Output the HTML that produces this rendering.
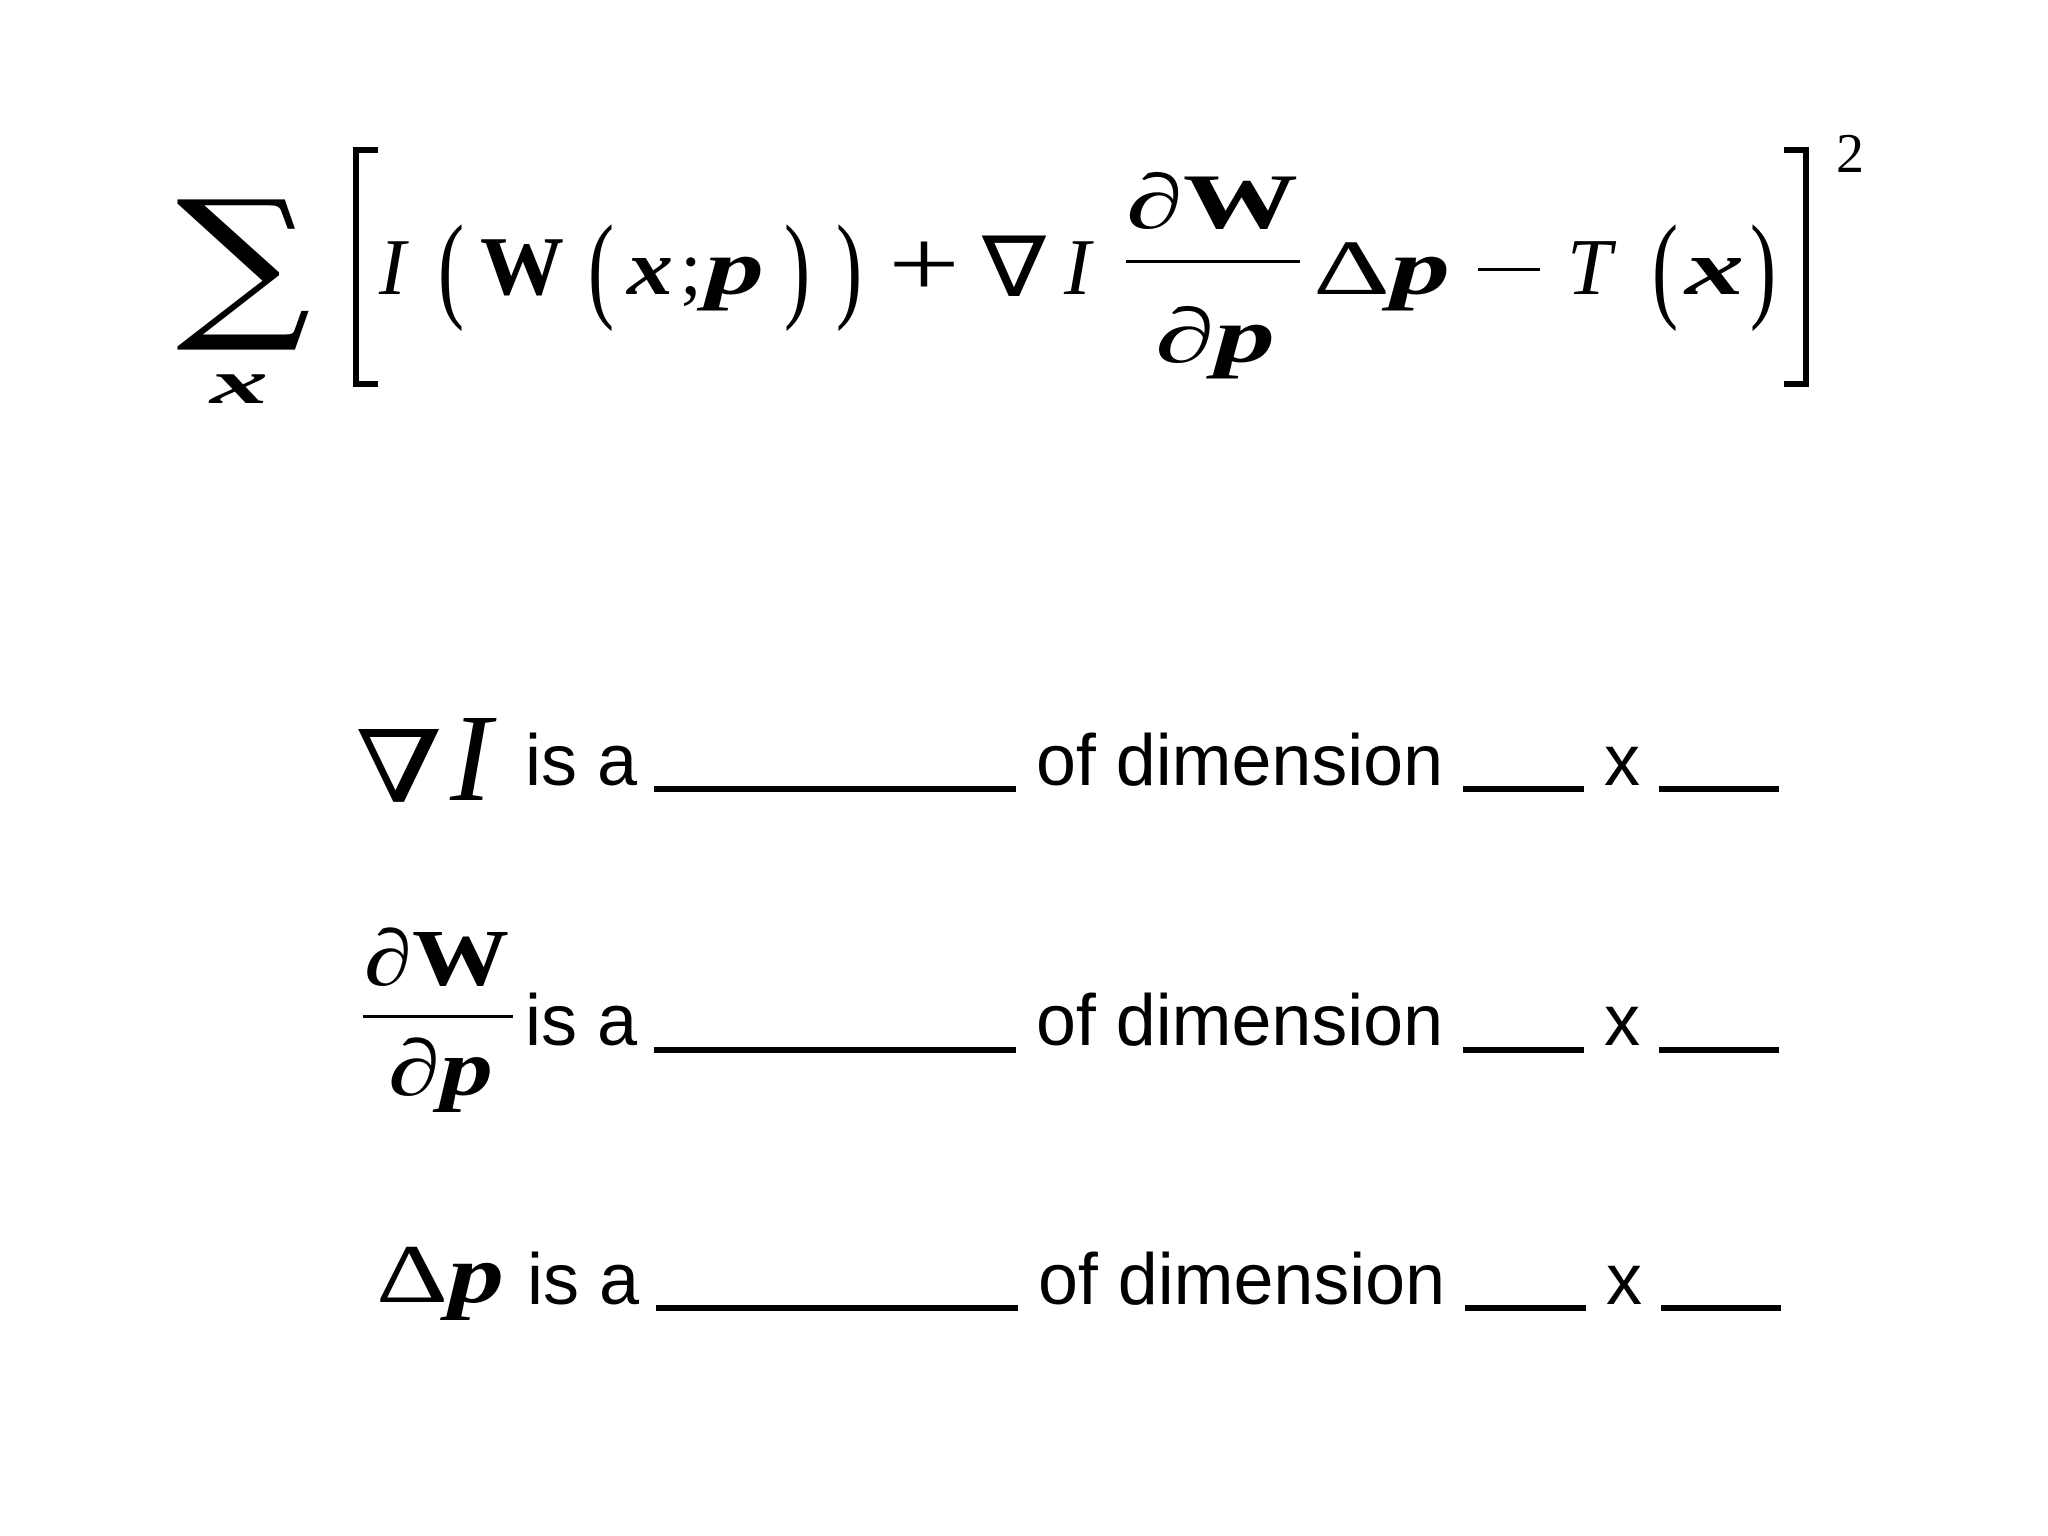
<!DOCTYPE html>
<html><head><meta charset="utf-8"><style>
html,body{margin:0;padding:0;background:#fff;width:2048px;height:1536px;overflow:hidden}
svg{display:block}
.m{font-family:"Liberation Serif",serif;font-style:italic}
.bi{font-weight:bold;font-style:italic}
.r{font-family:"Liberation Serif",serif;font-style:normal}
.s{font-family:"Liberation Sans",sans-serif;font-size:72px}
</style></head><body>
<svg width="2048" height="1536" viewBox="0 0 2048 1536" xmlns="http://www.w3.org/2000/svg">
<!-- Sum -->
<text x="176" y="318" font-family="DejaVu Serif,serif" font-size="165" textLength="135" lengthAdjust="spacingAndGlyphs">∑</text>
<text x="210" y="403" class="m bi" font-size="62" textLength="58" lengthAdjust="spacingAndGlyphs">x</text>
<!-- brackets -->
<path d="M378 150 H356 V384 H378" fill="none" stroke="#000" stroke-width="6"/>
<path d="M1784 150 H1806 V384 H1784" fill="none" stroke="#000" stroke-width="6"/>
<text x="1836" y="172" class="r" font-size="56">2</text>
<!-- main -->
<g font-size="78">
<text x="379" y="294" class="m" font-size="80">I</text>
<text x="438" y="306" class="r" font-size="118" textLength="26" lengthAdjust="spacingAndGlyphs">(</text>
<text x="480" y="294" font-family="Liberation Serif,serif" font-weight="bold" font-size="84">W</text>
<text x="588" y="306" class="r" font-size="118" textLength="26" lengthAdjust="spacingAndGlyphs">(</text>
<text x="627" y="294" class="m bi" textLength="46" lengthAdjust="spacingAndGlyphs">x</text>
<text x="680" y="294" class="r">;</text>
<text x="705" y="294" class="m bi" textLength="59" lengthAdjust="spacingAndGlyphs">p</text>
<text x="784" y="306" class="r" font-size="118" textLength="26" lengthAdjust="spacingAndGlyphs">)</text>
<text x="836" y="306" class="r" font-size="118" textLength="26" lengthAdjust="spacingAndGlyphs">)</text>
<text x="888" y="296" class="r" font-size="96" textLength="72" lengthAdjust="spacingAndGlyphs">+</text>
<text x="982" y="296" font-family="DejaVu Sans,sans-serif" font-size="84" textLength="64" lengthAdjust="spacingAndGlyphs">∇</text>
<text x="1064" y="294" class="m" font-size="80">I</text>
</g>
<text x="1126" y="228" class="r" font-size="78" textLength="172" lengthAdjust="spacingAndGlyphs"><tspan font-style="italic">∂</tspan><tspan font-weight="bold">W</tspan></text>
<rect x="1126" y="260" width="174" height="3" fill="#000"/>
<text x="1155" y="362" class="m" font-size="78" textLength="120" lengthAdjust="spacingAndGlyphs">∂<tspan font-weight="bold">p</tspan></text>
<text x="1313" y="294" class="r" font-size="78" textLength="137" lengthAdjust="spacingAndGlyphs">Δ<tspan class="bi">p</tspan></text>
<rect x="1478" y="268" width="62" height="3" fill="#000"/>
<text x="1567" y="294" class="m" font-size="80">T</text>
<text x="1652" y="306" class="r" font-size="118" textLength="26" lengthAdjust="spacingAndGlyphs">(</text>
<text x="1685" y="294" class="m bi" font-size="78" textLength="59" lengthAdjust="spacingAndGlyphs">x</text>
<text x="1750" y="306" class="r" font-size="118" textLength="26" lengthAdjust="spacingAndGlyphs">)</text>

<!-- row 1 -->
<text x="355" y="802" font-family="DejaVu Serif,serif" font-size="100" textLength="88" lengthAdjust="spacingAndGlyphs">∇</text>
<text x="450" y="800" class="m" font-size="125">I</text>
<g class="s">
<text x="525" y="785">is a</text>
<rect x="654" y="786" width="362" height="6" fill="#000"/>
<text x="1036" y="785" textLength="407" lengthAdjust="spacingAndGlyphs">of dimension</text>
<rect x="1463" y="786" width="121" height="6" fill="#000"/>
<text x="1604" y="785">x</text>
<rect x="1659" y="786" width="120" height="6" fill="#000"/>
</g>
<!-- row 2 -->
<text x="364" y="985" class="r" font-size="80" textLength="145" lengthAdjust="spacingAndGlyphs"><tspan font-style="italic">∂</tspan><tspan font-weight="bold">W</tspan></text>
<rect x="363" y="1015" width="150" height="3" fill="#000"/>
<text x="388" y="1095" class="m" font-size="80" textLength="105" lengthAdjust="spacingAndGlyphs">∂<tspan font-weight="bold">p</tspan></text>
<g class="s">
<text x="525" y="1045">is a</text>
<rect x="654" y="1047" width="362" height="6" fill="#000"/>
<text x="1036" y="1045" textLength="407" lengthAdjust="spacingAndGlyphs">of dimension</text>
<rect x="1463" y="1047" width="121" height="6" fill="#000"/>
<text x="1604" y="1045">x</text>
<rect x="1659" y="1047" width="120" height="6" fill="#000"/>
</g>
<!-- row 3 -->
<text x="376" y="1302" class="r" font-size="84" textLength="128" lengthAdjust="spacingAndGlyphs">Δ<tspan class="bi">p</tspan></text>
<g class="s">
<text x="527" y="1304">is a</text>
<rect x="656" y="1305" width="362" height="6" fill="#000"/>
<text x="1038" y="1304" textLength="407" lengthAdjust="spacingAndGlyphs">of dimension</text>
<rect x="1465" y="1305" width="121" height="6" fill="#000"/>
<text x="1606" y="1304">x</text>
<rect x="1661" y="1305" width="120" height="6" fill="#000"/>
</g>
</svg>
</body></html>
